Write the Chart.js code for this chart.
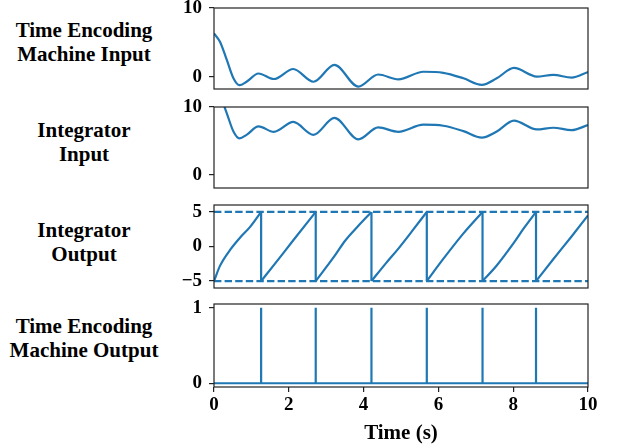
<!DOCTYPE html>
<html>
<head>
<meta charset="utf-8">
<script src="https://cdn.jsdelivr.net/npm/chart.js@4.4.1/dist/chart.umd.min.js"></script>
<style>
  html, body { margin: 0; padding: 0; background: #fff; }
  #wrap { position: relative; width: 618px; height: 448px; overflow: hidden; background: #fff; }
  canvas { position: absolute; left: 0; top: -20px; }
  .lbl { position: absolute; left: 0; width: 168px; text-align: center; color: #000;
         font: bold 21px 'Liberation Serif', 'Times New Roman', serif; line-height: 23.5px; white-space: nowrap; }
</style>
</head>
<body>
<div id="wrap">
  <div class="lbl" style="top:19px">Time Encoding<br>Machine Input</div>
  <div class="lbl" style="top:119px">Integrator<br>Input</div>
  <div class="lbl" style="top:219px">Integrator<br>Output</div>
  <div class="lbl" style="top:315px">Time Encoding<br>Machine Output</div>
  <canvas id="c1" width="618" height="488" style="width:618px;height:488px"></canvas>
  <canvas id="c2" width="618" height="488" style="width:618px;height:488px"></canvas>
  <canvas id="c3" width="618" height="488" style="width:618px;height:488px"></canvas>
  <canvas id="c4" width="618" height="488" style="width:618px;height:488px"></canvas>
</div>
<script>
// --- dados ---
const tempos = [0, 0.16, 0.34, 0.52, 0.68, 0.87, 1.19, 1.6, 2.12, 2.66, 3.22, 3.86, 4.39, 4.93, 5.6, 6.13, 6.67, 7.16, 7.56, 8.02, 8.63, 9.07, 9.56, 10];
const entradaTEM = [6.3, 5.1, 2.5, -0.2, -1.2, -0.7, 0.5, -0.3, 1.15, -0.7, 1.75, -1.4, 0.35, -0.35, 0.75, 0.6, -0.2, -1.15, -0.2, 1.3, 0.05, 0.3, -0.1, 0.7];
const entradaIntegrador = [12.9, 11.7, 9.1, 6.4, 5.4, 5.9, 7.15, 6.35, 7.8, 5.9, 8.4, 5.25, 7.0, 6.35, 7.4, 7.25, 6.45, 5.5, 6.4, 8.0, 6.7, 6.95, 6.6, 7.35];

// rampas da saída do integrador (uma por intervalo entre disparos)
const rampaTempos = [
  [0, 0.16, 0.43, 0.70, 0.96, 1.26],
  [1.26, 1.6, 2.12, 2.72],
  [2.72, 3.22, 3.5, 3.86, 4.21],
  [4.21, 4.6, 4.93, 5.3, 5.69],
  [5.69, 6.13, 6.67, 7.18],
  [7.18, 7.56, 8.02, 8.3, 8.61],
  [8.61, 9.07, 9.56, 10]
];
const rampaValores = [
  [-5, -2.8, -0.5, 1.3, 2.8, 5],
  [-5, -2.7, 0.9, 5],
  [-5, -1.4, 0.8, 3.0, 5],
  [-5, -2.4, -0.3, 2.25, 5],
  [-5, -1.8, 1.9, 5],
  [-5, -2.75, 0.55, 2.75, 5],
  [-5, -1.85, 1.45, 4.5]
];
const disparos = [1.26, 2.72, 4.21, 5.69, 7.18, 8.61];
const limiares = [5, -5];
const xTicks = [0, 2, 4, 6, 8, 10];

const AZUL = '#1f77b4';
const EIXO = '#222';
const FONTE = "'Liberation Serif', 'Times New Roman', serif";

Chart.defaults.font.family = FONTE;
Chart.defaults.font.weight = 'bold';
Chart.defaults.font.size = 19;
Chart.defaults.color = '#000';

// moldura completa em volta da área do gráfico
const molduraPlugin = {
  id: 'moldura',
  afterDraw(chart) {
    const a = chart.chartArea, ctx = chart.ctx;
    ctx.save();
    ctx.strokeStyle = EIXO;
    ctx.lineWidth = 1.2;
    ctx.strokeRect(a.left, a.top, a.right - a.left, a.bottom - a.top);
    ctx.restore();
  }
};

function linha(pontos, extra) {
  return Object.assign({
    data: pontos,
    borderColor: AZUL,
    borderWidth: 2.2,
    pointRadius: 0,
    fill: false,
    tension: 0
  }, extra || {});
}

function fmt(v) { return v < 0 ? '\u2212' + Math.abs(v) : String(v); }

// topo/base em px da página (o canvas começa em -20)
function opcoes(topo, base, yMin, yMax, yTicks, mostrarX) {
  return {
    responsive: false,
    animation: false,
    events: [],
    layout: { padding: { left: 150, right: 30, top: topo + 20, bottom: mostrarX ? 468 - 446 : 468 - base } },
    plugins: { legend: { display: false }, tooltip: { enabled: false } },
    scales: {
      x: {
        type: 'linear', min: 0, max: 10,
        display: mostrarX,
        afterBuildTicks: s => { s.ticks = xTicks.map(v => ({ value: v })); },
        afterFit: s => { if (mostrarX) s.height = 446 - base; },
        grid: { drawOnChartArea: false, drawTicks: true, tickLength: 5, color: EIXO, lineWidth: 1.2 },
        border: { display: false },
        ticks: { padding: 2, maxRotation: 0, font: { size: 19, weight: 'bold' }, callback: v => fmt(v) },
        title: { display: mostrarX, text: 'Time (s)', font: { size: 21, weight: 'bold' }, padding: { top: 0, bottom: 0 } }
      },
      y: {
        min: yMin, max: yMax,
        afterBuildTicks: s => { s.ticks = yTicks.map(v => ({ value: v })); },
        afterFit: s => { s.width = 64; },
        grid: { drawOnChartArea: false, drawTicks: true, tickLength: 5, color: EIXO, lineWidth: 1.2 },
        border: { display: false },
        ticks: { padding: 7, font: { size: 19, weight: 'bold' }, callback: v => fmt(v) }
      }
    }
  };
}

const monotono = { cubicInterpolationMode: 'monotone' };

// 1. Entrada da TEM
new Chart(document.getElementById('c1'), {
  type: 'line',
  data: { datasets: [linha(tempos.map((t, i) => ({ x: t, y: entradaTEM[i] })), monotono)] },
  options: opcoes(8, 89, -1.75, 10, [0, 10], false),
  plugins: [molduraPlugin]
});

// 2. Entrada do integrador
new Chart(document.getElementById('c2'), {
  type: 'line',
  data: { datasets: [linha(tempos.map((t, i) => ({ x: t, y: entradaIntegrador[i] })), monotono)] },
  options: opcoes(107, 188, -1.9, 10, [0, 10], false),
  plugins: [molduraPlugin]
});

// 3. Saída do integrador: rampas, resets e limiares tracejados
const ds3 = rampaTempos.map((ts, k) => linha(ts.map((t, i) => ({ x: t, y: rampaValores[k][i] })), monotono));
const resets = [];
disparos.forEach(t => { resets.push({ x: t, y: limiares[0] }, { x: t, y: limiares[1] }, { x: t, y: null }); });
ds3.push(linha(resets, { spanGaps: false }));
limiares.forEach(v => {
  ds3.push(linha([{ x: 0, y: v }, { x: 10, y: v }], { borderDash: [7.4, 3.2] }));
});
new Chart(document.getElementById('c3'), {
  type: 'line',
  data: { datasets: ds3 },
  options: opcoes(205, 288, -6, 6, [-5, 0, 5], false),
  plugins: [molduraPlugin]
});

// 4. Saída da TEM: pulsos nos instantes de disparo
const pulsos = [{ x: 0, y: 0 }];
disparos.forEach(t => { pulsos.push({ x: t, y: 0 }, { x: t, y: 1 }, { x: t, y: 0 }); });
pulsos.push({ x: 10, y: 0 });
new Chart(document.getElementById('c4'), {
  type: 'line',
  data: { datasets: [linha(pulsos)] },
  options: opcoes(304, 387, -0.05, 1.05, [0, 1], true),
  plugins: [molduraPlugin]
});
</script>
</body>
</html>
